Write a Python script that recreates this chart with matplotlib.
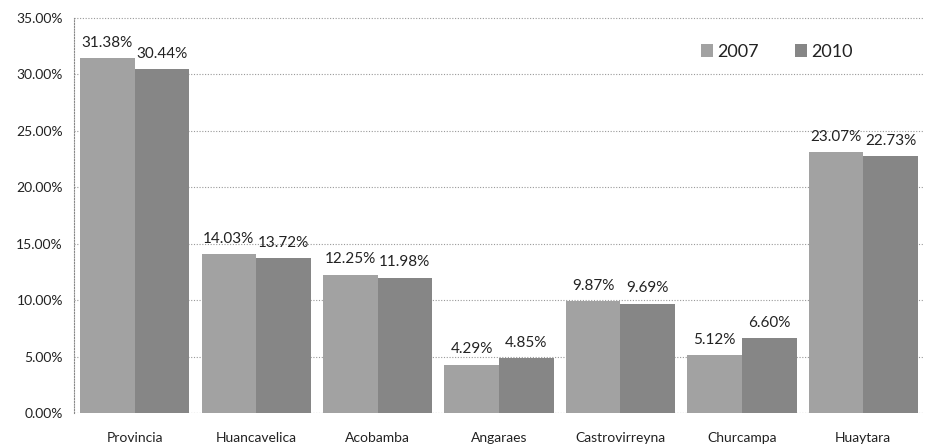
import matplotlib
matplotlib.use("Agg")
import matplotlib.pyplot as plt
import numpy as np

categories = ["Provincia", "Huancavelica", "Acobamba", "Angaraes", "Castrovirreyna", "Churcampa", "Huaytara"]
series_names = ["2007", "2010"]
values_2007 = [31.38, 14.03, 12.25, 4.29, 9.87, 5.12, 23.07]
values_2010 = [30.44, 13.72, 11.98, 4.85, 9.69, 6.60, 22.73]
yticks = [0, 5, 10, 15, 20, 25, 30, 35]

plt.rcParams['font.family'] = ['Lato', 'DejaVu Sans']

fig = plt.figure(figsize=(9.26, 4.48), dpi=100)
ax = fig.add_axes([74/926, 35/448, 850/926, 395.5/448])

x = np.arange(len(categories))
w = 0.45
c07 = "#a2a2a2"
c10 = "#868686"
b1 = ax.bar(x - w/2, values_2007, w, color=c07, label=series_names[0], zorder=3)
b2 = ax.bar(x + w/2, values_2010, w, color=c10, label=series_names[1], zorder=3)

for bars, vals in ((b1, values_2007), (b2, values_2010)):
    for r, v in zip(bars, vals):
        ax.annotate(f"{v:.2f}%", (r.get_x() + r.get_width()/2, v),
                    xytext=(0, 6), textcoords="offset points",
                    ha="center", va="bottom", fontsize=11, color="#222222")

ax.set_xlim(-0.5, len(categories) - 0.5)
ax.set_ylim(0, 35)
ax.set_yticks(yticks)
ax.set_yticklabels([f"{t:.2f}%" for t in yticks], fontsize=10, color="#222222")
ax.set_xticks(x)
ax.set_xticklabels(categories, fontsize=10, color="#222222")
ax.tick_params(axis="x", length=0, pad=14)
ax.tick_params(axis="y", length=0, pad=8)
ax.grid(axis="y", color="#999999", linestyle=(0, (1, 1.5)), linewidth=0.8, zorder=0)
for s in ("top", "right", "bottom"):
    ax.spines[s].set_visible(False)
ax.spines["left"].set_linestyle((0, (1, 1.5)))
ax.spines["left"].set_color("#888888")
ax.axhline(0, color="#999999", linestyle=(0, (1, 1.5)), linewidth=0.8, zorder=1)

leg = ax.legend(loc="upper left", bbox_to_anchor=(0.718, 0.975), ncol=2, frameon=False,
                fontsize=13, handlelength=0.7, handleheight=0.7, columnspacing=2.0,
                handletextpad=0.2)
for t in leg.get_texts():
    t.set_color("#222222")

fig.savefig("out.png", dpi=100)
